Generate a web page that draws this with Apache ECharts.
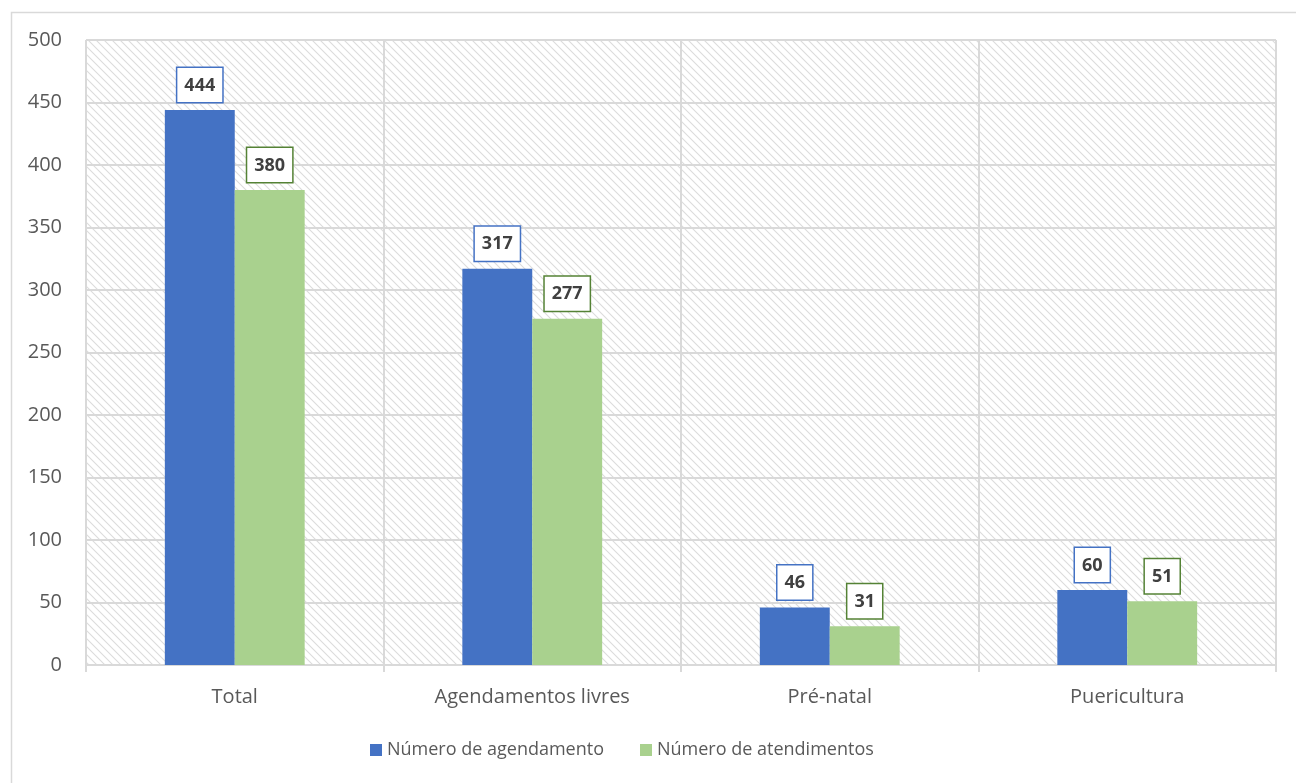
<!DOCTYPE html>
<html>
<head>
<meta charset="utf-8">
<script src="https://cdn.jsdelivr.net/npm/echarts@6/dist/echarts.min.js"></script>
<style>
  html, body { margin: 0; padding: 0; background: #fff; }
  #chart { width: 1296px; height: 783px; }
</style>
</head>
<body>
<div id="chart"></div>
<script>
// Categories and values
const categories = ['Total', 'Agendamentos livres', 'Pré-natal', 'Puericultura'];
const agendamentos = [444, 317, 46, 60];
const atendimentos = [380, 277, 31, 51];
const seriesNames = ['Número de agendamento', 'Número de atendimentos'];

const BLUE = '#4472C4';
const GREEN = '#A9D18E';
const GREEN_DARK = '#548235';
const GRID_LINE = '#d9d9d9';
const TEXT = '#595959';
const FONT = '"Open Sans", "Liberation Sans", sans-serif';

// Diagonal hatch tile used as the plot-area background
function makeHatch() {
  const c = document.createElement('canvas');
  c.width = 8; c.height = 8;
  const ctx = c.getContext('2d');
  ctx.fillStyle = '#ffffff';
  ctx.fillRect(0, 0, 8, 8);
  ctx.strokeStyle = '#dcdcdc';
  ctx.lineWidth = 1.1;
  ctx.beginPath();
  ctx.moveTo(-1, -1); ctx.lineTo(9, 9);
  ctx.moveTo(-1, 7); ctx.lineTo(1, 9);
  ctx.moveTo(7, -1); ctx.lineTo(9, 1);
  ctx.stroke();
  return c;
}

const chart = echarts.init(document.getElementById('chart'), null, { renderer: 'canvas' });

function labelStyle(border) {
  return {
    show: true,
    position: 'top',
    distance: 8,
    fontFamily: FONT,
    fontWeight: 'bold',
    fontSize: 18,
    lineHeight: 19,
    color: '#404040',
    backgroundColor: '#ffffff',
    borderColor: border,
    borderWidth: 1.5,
    padding: [8, 7, 7, 7]
  };
}

chart.setOption({
  animation: false,
  backgroundColor: '#ffffff',
  graphic: [{
    type: 'rect',
    left: 9, top: 10,
    shape: { width: 1300, height: 800 },
    style: { fill: 'none', stroke: GRID_LINE, lineWidth: 1.5 },
    z: -1
  }],
  grid: {
    left: 86, right: 20, top: 40, bottom: 118,
    show: true,
    borderWidth: 0,
    backgroundColor: { image: makeHatch(), repeat: 'repeat' }
  },
  legend: {
    data: seriesNames,
    left: 365,
    top: 736,
    icon: 'rect',
    itemWidth: 12,
    itemHeight: 12,
    itemGap: 36,
    itemStyle: { borderWidth: 0 },
    textStyle: { fontFamily: FONT, fontSize: 18, color: TEXT }
  },
  xAxis: {
    type: 'category',
    data: categories,
    axisLine: { show: true, lineStyle: { color: GRID_LINE, width: 2 } },
    axisTick: { show: true, length: 7, lineStyle: { color: GRID_LINE, width: 2 } },
    splitLine: { show: true, lineStyle: { color: GRID_LINE, width: 2 } },
    axisLabel: { margin: 22, fontFamily: FONT, fontSize: 20, color: TEXT }
  },
  yAxis: {
    type: 'value',
    min: 0, max: 500, interval: 50,
    axisLine: { show: false },
    axisTick: { show: false },
    splitLine: { show: true, lineStyle: { color: GRID_LINE, width: 2 } },
    axisLabel: { margin: 24, fontFamily: FONT, fontSize: 20, color: TEXT }
  },
  series: [
    {
      name: seriesNames[0],
      type: 'bar',
      data: agendamentos,
      itemStyle: { color: BLUE },
      barGap: '0%',
      barCategoryGap: '53%',
      label: labelStyle(BLUE)
    },
    {
      name: seriesNames[1],
      type: 'bar',
      data: atendimentos,
      itemStyle: { color: GREEN },
      label: labelStyle(GREEN_DARK)
    }
  ]
});
</script>
</body>
</html>
